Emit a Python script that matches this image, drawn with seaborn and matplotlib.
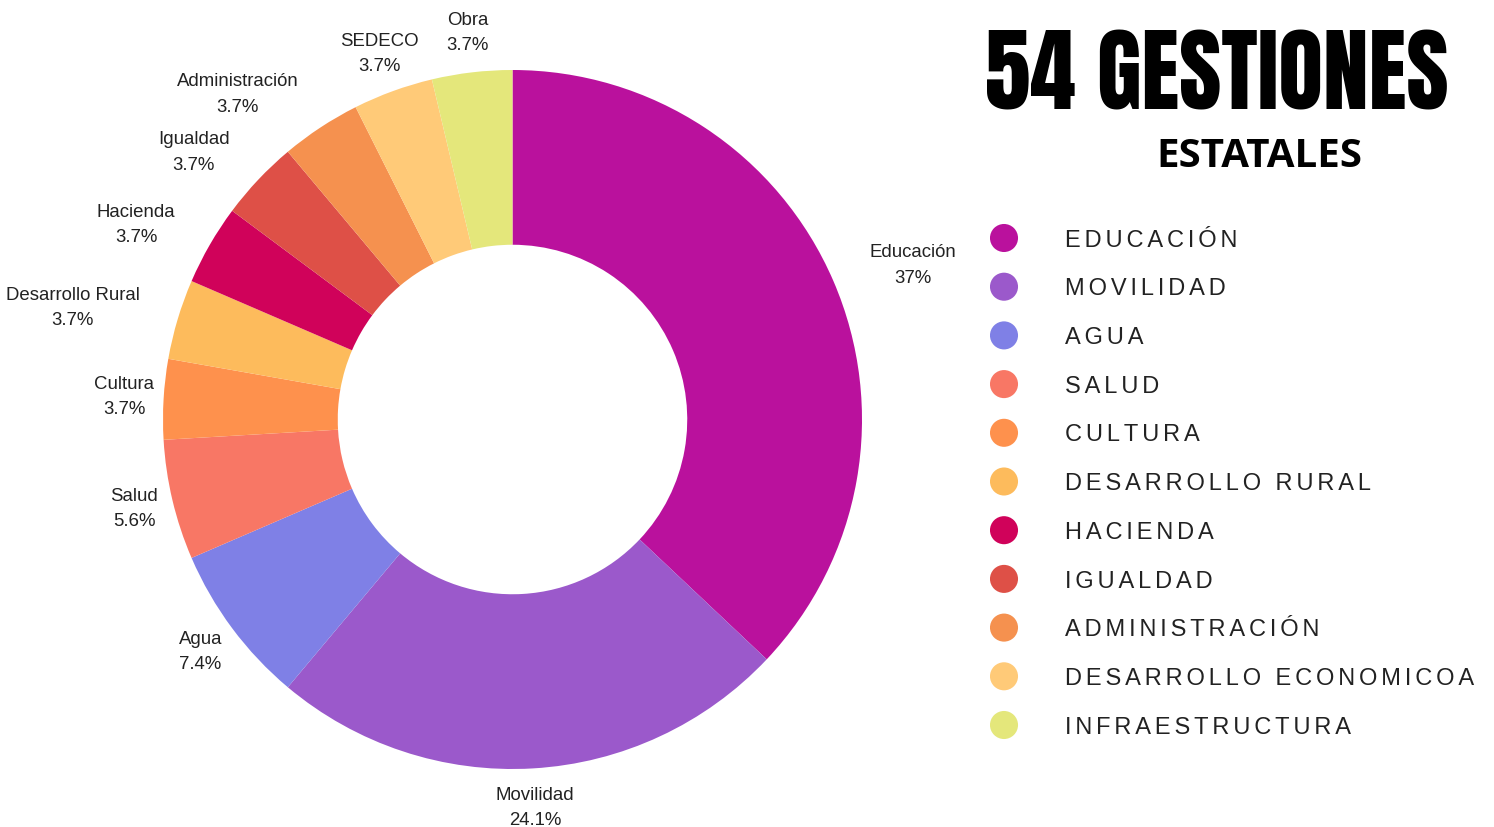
import numpy as np
import pandas as pd
import seaborn as sns
import matplotlib.pyplot as plt

# datos
etiquetas = ["Educación", "Movilidad", "Agua", "Salud", "Cultura", "Desarrollo Rural",
             "Hacienda", "Igualdad", "Administración", "SEDECO", "Obra"]
leyenda = ["EDUCACIÓN", "MOVILIDAD", "AGUA", "SALUD", "CULTURA", "DESARROLLO RURAL",
           "HACIENDA", "IGUALDAD", "ADMINISTRACIÓN", "DESARROLLO ECONOMICOA", "INFRAESTRUCTURA"]
gestiones = [20, 13, 4, 3, 2, 2, 2, 2, 2, 2, 2]
colores = ["#BA119D", "#9B59CB", "#7F80E6", "#F87765", "#FE914D", "#FDBB5C",
           "#D0025A", "#DE5047", "#F5914F", "#FFCA78", "#E4E77B"]
titulo = "54 GESTIONES"
subtitulo = "ESTATALES"

sns.set_theme(style="white")
plt.rcParams['font.family'] = ['Liberation Sans', 'DejaVu Sans']

W, H = 1494, 827
fig = plt.figure(figsize=(W / 100, H / 100), dpi=100)
fig.patch.set_facecolor('white')

# dona
R = 349.5
cx, cy = 512.5, H - 419.5
L = 1.18
S = 2 * L * R
ax = fig.add_axes([(cx - S / 2) / W, (cy - S / 2) / H, S / W, S / H])
wedges, _ = ax.pie(gestiones, colors=colores, startangle=90, counterclock=False,
                   wedgeprops=dict(width=0.5, linewidth=0))
ax.set_xlim(-L, L)
ax.set_ylim(-L, L)
ax.axis('off')

total = sum(gestiones)
r_txt = 389 / R
textos = []
for w, nombre, n in zip(wedges, etiquetas, gestiones):
    ang = np.deg2rad((w.theta1 + w.theta2) / 2)
    pct = f"{100 * n / total:.1f}"
    if pct.endswith(".0"):
        pct = pct[:-2]
    t = ax.text(r_txt * np.cos(ang), r_txt * np.sin(ang), f"{nombre}\n{pct}%",
                ha='center', va='center', fontsize=13.4, color='#222222',
                linespacing=1.65, multialignment='center')
    textos.append((t, np.cos(ang)))

# si la etiqueta centrada pisa la dona, se alinea por el borde
fig.canvas.draw()
inv = ax.transData.inverted()
for t, c in textos:
    bb = t.get_window_extent().transformed(inv)
    nx = np.clip(0, bb.x0, bb.x1)
    ny = np.clip(0, bb.y0, bb.y1)
    if np.hypot(nx, ny) < 1.0:
        t.set_ha('left' if c > 0 else 'right')

# leyenda
y0, y1 = H - 238, H - 725
sp = (y0 - y1) / (len(leyenda) - 1)
ax2 = fig.add_axes([990 / W, (y1 - sp / 2) / H, (W - 990) / W, (y0 - y1 + sp) / H])
df = pd.DataFrame({"categoria": leyenda, "pos": range(len(leyenda)), "x": 0})
sns.scatterplot(data=df, x="x", y="pos", hue="categoria",
                palette=dict(zip(leyenda, colores)), s=408, linewidth=0,
                legend=False, ax=ax2)
ax2.set_xlim(-14, W - 990 - 14)
ax2.set_ylim(len(leyenda) - 0.5, -0.5)
ax2.axis('off')
for i, txt in enumerate(leyenda):
    ax2.annotate("\u2006".join(txt), (61, i), xytext=(0, -6.2), textcoords='offset points',
                 ha='left', va='baseline', fontsize=17, color='#222222',
                 family=['Liberation Sans', 'DejaVu Sans'])

# titulo
fig.text(985 / W, (H - 110) / H, titulo, ha='left', va='baseline',
         fontsize=66, color='black', family=['Anton', 'DejaVu Sans'])
fig.text(1259 / W, (H - 167) / H, subtitulo, ha='center', va='baseline',
         fontsize=29, fontweight='bold', color='black',
         family=['Open Sans', 'DejaVu Sans'])

fig.savefig("out.png", dpi=100, facecolor='white')
